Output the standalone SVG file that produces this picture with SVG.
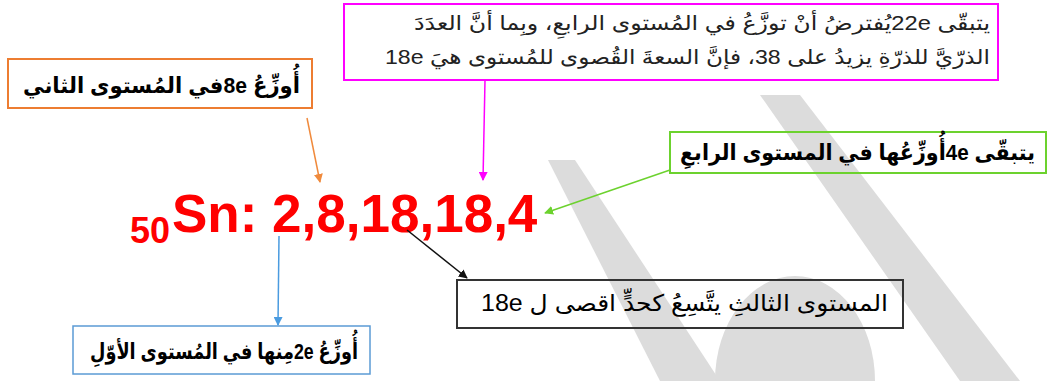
<svg xmlns="http://www.w3.org/2000/svg" width="1052" height="381" viewBox="0 0 1052 381">
<style>
.box{fill:none}
.ar{font-family:"Liberation Sans","DejaVu Sans",sans-serif;fill:#000;direction:rtl;text-anchor:start}
.b{font-weight:bold;font-size:22px}
.r{font-size:20px;fill:#222}
.f{font-family:"Liberation Sans",Arial,sans-serif;font-weight:bold;fill:#FF0000}
.wm{fill:#dcdcdc}
.c{fill:none}
</style>
<defs>
<marker id="mo" viewBox="0 0 10 10" refX="9" refY="5" markerWidth="6" markerHeight="6" orient="auto"><path d="M0,0 L10,5 L0,10 z" fill="#F08A3C"/></marker>
<marker id="mm" viewBox="0 0 10 10" refX="9" refY="5" markerWidth="6" markerHeight="6" orient="auto"><path d="M0,0 L10,5 L0,10 z" fill="#FF00FF"/></marker>
<marker id="mg" viewBox="0 0 10 10" refX="9" refY="5" markerWidth="6" markerHeight="6" orient="auto"><path d="M0,0 L10,5 L0,10 z" fill="#6CD22E"/></marker>
<marker id="mb" viewBox="0 0 10 10" refX="9" refY="5" markerWidth="6" markerHeight="6" orient="auto"><path d="M0,0 L10,5 L0,10 z" fill="#4A9BE0"/></marker>
<marker id="mk" viewBox="0 0 10 10" refX="9" refY="5" markerWidth="6" markerHeight="6" orient="auto"><path d="M0,0 L10,5 L0,10 z" fill="#111"/></marker>
</defs>
<g id="watermark">
<polygon class="wm" points="548,160 575,160 720,381 660,381"/>
<polygon class="wm" points="760,95 800,95 1020,381 960,381"/>
<path class="wm" d="M715,381 A80,105 0 0 1 875,381 Z"/>
</g>
<g id="formula">
<text class="f" x="130" y="243" font-size="36">50</text>
<text class="f" x="172" y="232" font-size="53">Sn: 2,8,18,18,4</text>
</g>
<g id="node-second">
<rect class="box" x="8" y="59" width="304" height="49" stroke="#ED7D31" stroke-width="2"/>
<text class="ar b" x="300" y="93" textLength="277" lengthAdjust="spacingAndGlyphs">أُوزِّعُ  8eفي المُستوى الثاني</text>
</g>
<g id="node-fourth-note">
<rect class="box" x="344" y="4" width="654" height="76" stroke="#FF00FF" stroke-width="2"/>
<text class="ar r" x="990" y="30" textLength="576" lengthAdjust="spacingAndGlyphs">يتبقّى  22eيُفترضُ أنْ توزَّعُ في المُستوى الرابعِ، وبِما أنَّ العدَدَ</text>
<text class="ar r" x="990" y="64" textLength="605" lengthAdjust="spacingAndGlyphs">الذرّيَّ للذرّةِ يزيدُ على  38، فإنَّ السعةَ القُصوى للمُستوى هيَ 18e</text>
</g>
<g id="node-fourth">
<rect class="box" x="670" y="132" width="376" height="41" stroke="#6CD22E" stroke-width="2"/>
<text class="ar b" x="1035" y="160" textLength="355" lengthAdjust="spacingAndGlyphs">يتبقّى  4eأُوزِّعُها في المستوى الرابعِ</text>
</g>
<g id="node-third">
<rect class="box" x="457" y="280" width="446" height="48" stroke="#333" stroke-width="2"/>
<text class="ar" x="888" y="311" font-size="23" textLength="407" lengthAdjust="spacingAndGlyphs">المستوى الثالثِ  يتَّسِعُ كحدٍّ اقصى ل  18e</text>
</g>
<g id="node-first">
<rect class="box" x="73" y="326" width="297" height="48" stroke="#5B9BD5" stroke-width="1.5"/>
<text class="ar b" x="358" y="359" textLength="268" lengthAdjust="spacingAndGlyphs">أُوزِّعُ  2eمِنها في المُستوى الأوّلِ</text>
</g>
<g id="connectors" class="c">
<line x1="307" y1="118" x2="320" y2="182" stroke="#F08A3C" stroke-width="1.5" marker-end="url(#mo)"/>
<line x1="485" y1="80" x2="483" y2="180" stroke="#FF00FF" stroke-width="1.5" marker-end="url(#mm)"/>
<line x1="670" y1="170" x2="545" y2="213" stroke="#6CD22E" stroke-width="1.5" marker-end="url(#mg)"/>
<line x1="279" y1="236" x2="278" y2="325" stroke="#4A9BE0" stroke-width="1.5" marker-end="url(#mb)"/>
<line x1="407" y1="230" x2="467" y2="278" stroke="#111" stroke-width="1.5" marker-end="url(#mk)"/>
</g>
</svg>
